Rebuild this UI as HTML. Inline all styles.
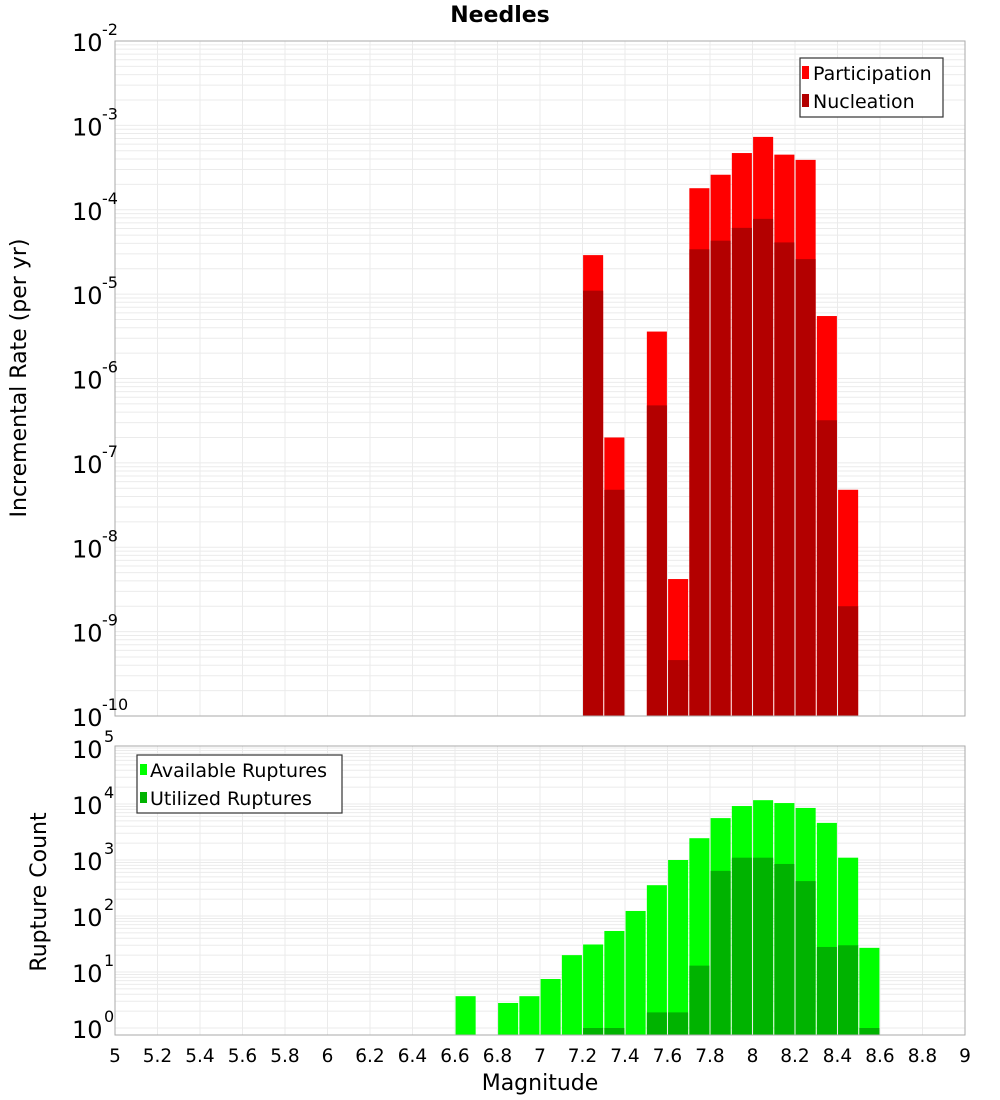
<!DOCTYPE html>
<html><head><meta charset="utf-8"><style>
body{margin:0;background:#fff}
svg{display:block;font-family:"DejaVu Sans","Liberation Sans",sans-serif}
</style></head><body>
<svg id="chart" width="1000" height="1100"></svg>
<script>
const bins=[7.2,7.3,7.5,7.6,7.7,7.8,7.9,8.0,8.1,8.2,8.3,8.4];
const participation=[2.9e-5,2.0e-7,3.6e-6,4.2e-9,1.8e-4,2.6e-4,4.7e-4,7.3e-4,4.5e-4,3.9e-4,5.5e-6,4.8e-8];
const nucleation=[1.1e-5,4.8e-8,4.8e-7,4.6e-10,3.4e-5,4.3e-5,6.1e-5,7.8e-5,4.1e-5,2.6e-5,3.2e-7,2.0e-9];
const availBins=[6.6,6.8,6.9,7.0,7.1,7.2,7.3,7.4,7.5,7.6,7.7,7.8,7.9,8.0,8.1,8.2,8.3,8.4,8.5];
const available=[3.7,2.8,3.7,7.5,20,31,54,123,355,1000,2450,5600,9200,11700,10400,8500,4600,1100,27];
const utilBins=[7.2,7.3,7.5,7.6,7.7,7.8,7.9,8.0,8.1,8.2,8.3,8.4,8.5];
const utilized=[1,1,1.9,1.9,13,640,1100,1100,850,420,28,30,1];
const xTicks=[5,5.2,5.4,5.6,5.8,6,6.2,6.4,6.6,6.8,7,7.2,7.4,7.6,7.8,8,8.2,8.4,8.6,8.8,9];
const topExps=[-10,-9,-8,-7,-6,-5,-4,-3,-2];
const botExps=[0,1,2,3,4,5];

const NS="http://www.w3.org/2000/svg";
const svg=document.getElementById('chart');
function mk(tag,attrs,parent){const e=document.createElementNS(NS,tag);for(const k in attrs)e.setAttribute(k,attrs[k]);(parent||svg).appendChild(e);return e;}
const L=115,R=965;
const X=m=>L+(m-5)/4*(R-L);
const T1=41,B1=716;
const Yt=v=>T1+(-2-Math.log10(v))*(B1-T1)/8;
const T2=746,B2=1035,Y0=1028,PD=56;
const Yb=v=>Y0-Math.log10(v)*PD;
const bw=(X(5.1)-X(5))-1.2;

function grid(top,bot,yf,exps){
  const g=mk('g',{});
  
  
  for(let i=0;i<exps.length;i++){
    const e=exps[i];
    for(let k=1;k<10;k++){
      if(i===exps.length-1&&k>1)break;
      const y=yf(k*Math.pow(10,e));
      if(y<top||y>bot)continue;
      mk('line',{x1:L,x2:R,y1:y,y2:y,stroke:'#ebebeb','stroke-width':1},g);
    }
  }
  for(const t of xTicks){const x=X(t);mk('line',{x1:x,x2:x,y1:top,y2:bot,stroke:'#ebebeb','stroke-width':1},g);}
}
const title=mk('text',{x:500,y:22,'text-anchor':'middle','font-size':22,'font-weight':'bold'});
title.textContent='Needles';



grid(T1,B1,Yt,topExps);
for(let i=0;i<bins.length;i++){
  const x=X(bins[i])+0.6;
  const r1=mk('rect',{x:x,y:Yt(participation[i]),width:bw,height:B1-Yt(participation[i]),fill:'#ff0000'});
  
  
  const r2=mk('rect',{x:x,y:Yt(nucleation[i]),width:bw,height:B1-Yt(nucleation[i]),fill:'#b30000'});
  
  
}
mk('rect',{x:L,y:T1,width:R-L,height:B1-T1,fill:'none',stroke:'#aaa','stroke-width':1});
for(const e of topExps){
  const y=Yt(Math.pow(10,e));
  const t=mk('text',{x:72,y:y+10,'font-size':24});
  t.textContent='10';
  
  
  const s=mk('text',{x:102,y:y-6,'font-size':16});
  s.textContent=String(e);
  
  
}
const yt1=mk('text',{x:0,y:0,'font-size':22,'text-anchor':'middle',transform:'translate(26,378) rotate(-90)'});
yt1.textContent='Incremental Rate (per yr)';


const lg=mk('g',{});


mk('rect',{x:800,y:58,width:143,height:59,fill:'#fff',stroke:'#333','stroke-width':1.2},lg);
mk('rect',{x:802,y:66,width:7,height:13,fill:'#ff0000'},lg);
mk('rect',{x:802,y:94,width:7,height:13,fill:'#b30000'},lg);
let tt=mk('text',{x:813,y:80,'font-size':19},lg);tt.textContent='Participation';
tt=mk('text',{x:813,y:108,'font-size':19},lg);tt.textContent='Nucleation';

grid(T2,B2,Yb,botExps);
for(let i=0;i<availBins.length;i++){
  const x=X(availBins[i])+0.6;
  const r=mk('rect',{x:x,y:Yb(available[i]),width:bw,height:B2-Yb(available[i]),fill:'#00ff00'});
  
  
}
for(let i=0;i<utilBins.length;i++){
  const x=X(utilBins[i])+0.6;
  const r=mk('rect',{x:x,y:Yb(utilized[i]),width:bw,height:B2-Yb(utilized[i]),fill:'#00b300'});
  
  
}
mk('rect',{x:L,y:T2,width:R-L,height:B2-T2,fill:'none',stroke:'#aaa','stroke-width':1});
for(const e of botExps){
  const y=Yb(Math.pow(10,e));
  const t=mk('text',{x:72,y:y+10,'font-size':24});
  t.textContent='10';
  
  
  const s=mk('text',{x:104,y:y-6,'font-size':16});
  s.textContent=String(e);
  
  
}
for(const t of xTicks){
  const tx=mk('text',{x:X(t),y:1062,'font-size':18.5,'text-anchor':'middle'});
  tx.textContent=String(t);
  
  
}
const yt2=mk('text',{x:0,y:0,'font-size':22,'text-anchor':'middle',transform:'translate(46,892) rotate(-90)'});
yt2.textContent='Rupture Count';


const xt=mk('text',{x:540,y:1090,'font-size':22,'text-anchor':'middle'});
xt.textContent='Magnitude';


const lg2=mk('g',{});


mk('rect',{x:137,y:755,width:205,height:58,fill:'#fff',stroke:'#333','stroke-width':1.2},lg2);
mk('rect',{x:140,y:764,width:7,height:11,fill:'#00ff00'},lg2);
mk('rect',{x:140,y:792,width:7,height:11,fill:'#00b300'},lg2);
tt=mk('text',{x:150,y:777,'font-size':19},lg2);tt.textContent='Available Ruptures';
tt=mk('text',{x:150,y:805,'font-size':19},lg2);tt.textContent='Utilized Ruptures';
</script>
</body></html>
